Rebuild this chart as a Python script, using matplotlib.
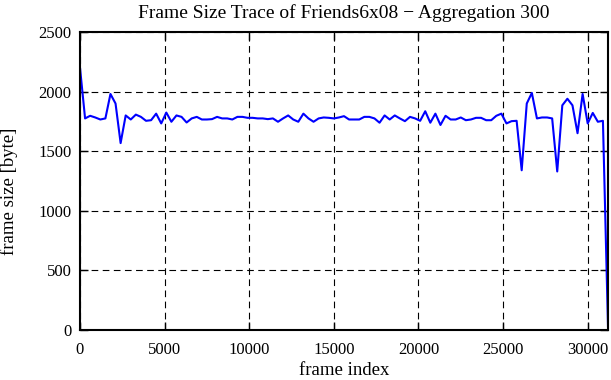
import matplotlib
matplotlib.use('Agg')
import matplotlib.pyplot as plt

# aggregated frame sizes, one value every 300 frames
step = 300
frame_size = [
    2200, 1775, 1797, 1783, 1766, 1775, 1980, 1900, 1568, 1800,
    1766, 1807, 1788, 1755, 1760, 1815, 1733, 1824, 1747, 1800,
    1788, 1741, 1775, 1788, 1766, 1766, 1769, 1788, 1775, 1775,
    1766, 1788, 1788, 1780, 1780, 1775, 1775, 1769, 1775, 1747,
    1775, 1800, 1766, 1747, 1815, 1775, 1747, 1775, 1783, 1780,
    1775, 1783, 1794, 1766, 1766, 1766, 1788, 1788, 1775, 1739,
    1800, 1766, 1800, 1775, 1752, 1788, 1775, 1755, 1835, 1739,
    1815, 1720, 1797, 1766, 1766, 1783, 1760, 1766, 1780, 1780,
    1760, 1760, 1797, 1815, 1733, 1752, 1755, 1340, 1900, 1989,
    1775, 1783, 1783, 1775, 1330, 1885, 1940, 1885, 1651, 1980,
    1733, 1821, 1747, 1755, 30,
]
frame_index = [i * step for i in range(len(frame_size))]
xticks = [0, 5000, 10000, 15000, 20000, 25000, 30000]
yticks = [0, 500, 1000, 1500, 2000, 2500]

plt.rcParams['font.family'] = ['Liberation Serif', 'DejaVu Serif']
plt.rcParams['font.size'] = 12

fig = plt.figure(figsize=(6.11, 3.8), dpi=100)
ax = fig.add_axes([80 / 611, 1 - 330 / 380, 528 / 611, 298 / 380])

ax.plot(frame_index, frame_size, color='#0000ff', linewidth=1.5)

ax.set_xlim(0, 31200)
ax.set_ylim(0, 2500)
ax.set_xticks(xticks)
ax.set_yticks(yticks)
ax.grid(True, color='black', linestyle=(0, (6, 4)), linewidth=0.8)
ax.tick_params(direction='in', length=6, width=1, top=True, right=True)
ax.tick_params(axis='x', pad=9)
ax.tick_params(axis='y', pad=6)
for s in ax.spines.values():
    s.set_linewidth(1.5)

ax.set_title('Frame Size Trace of Friends6x08 \u2212 Aggregation 300', fontsize=14, pad=10)
ax.set_xlabel('frame index', fontsize=13.5)
ax.set_ylabel('frame size [byte]', fontsize=13.5)
ax.xaxis.set_label_coords(0.5, -0.108)
ax.yaxis.set_label_coords(-0.118, 0.465)

fig.savefig('out.png', dpi=100)
